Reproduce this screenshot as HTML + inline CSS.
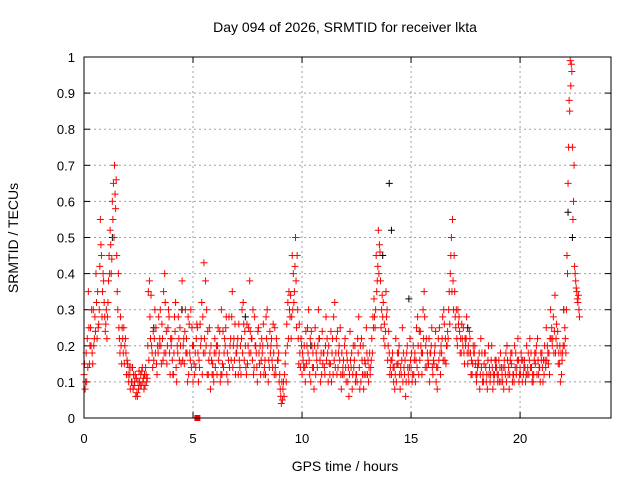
<!DOCTYPE html>
<html><head><meta charset="utf-8"><style>
body{margin:0;background:#fff;font-family:"Liberation Sans",sans-serif}
svg text{font-family:"Liberation Sans",sans-serif;font-size:13px;fill:#000}
</style></head><body>
<svg id="chart" width="640" height="480">
<text x="345" y="32" text-anchor="middle" style="font-size:14px">Day 094 of 2026, SRMTID for receiver lkta</text>
<text transform="translate(18,238) rotate(-90)" text-anchor="middle" style="font-size:14px">SRMTID / TECUs</text>
<text x="345" y="471" text-anchor="middle" style="font-size:14px">GPS time / hours</text>
<g id="grid"></g><g id="marks"></g>
<rect x="84" y="57" width="527" height="361" fill="none" stroke="#000"/>
</svg>
<script>
const xTicks=[0,5,10,15,20];
const yTicks=[0,0.1,0.2,0.3,0.4,0.5,0.6,0.7,0.8,0.9,1];
const yTickLabels=["0","0.1","0.2","0.3","0.4","0.5","0.6","0.7","0.8","0.9","1"];
const seriesA=[0.12,0.18,0.35,0.25,0.15,0.28,0.22,0.30,0.45,0.38,
0.26,0.32,0.52,0.60,0.70,0.45,0.25,0.20,0.18,0.22,
0.15,0.12,0.10,0.09,0.11,0.08,0.12,0.10,0.09,0.11,
0.38,0.20,0.16,0.25,0.18,0.30,0.22,0.40,0.15,0.28,
0.20,0.12,0.32,0.18,0.25,0.38,0.15,0.22,0.12,0.30,
0.10,0.18,0.25,0.14,0.32,0.43,0.20,0.12,0.08,0.15,
0.22,0.12,0.18,0.30,0.14,0.25,0.10,0.20,0.35,0.16,
0.18,0.26,0.12,0.32,0.20,0.15,0.38,0.22,0.14,0.18,
0.25,0.12,0.20,0.16,0.30,0.14,0.22,0.18,0.12,0.16,
0.08,0.05,0.12,0.26,0.35,0.22,0.40,0.50,0.30,0.18,
0.12,0.20,0.15,0.30,0.10,0.18,0.25,0.14,0.22,0.12,
0.18,0.28,0.10,0.15,0.22,0.32,0.12,0.20,0.08,0.16,
0.14,0.10,0.24,0.08,0.16,0.12,0.28,0.10,0.20,0.15,
0.12,0.18,0.22,0.33,0.45,0.52,0.38,0.28,0.20,0.30,
0.18,0.12,0.10,0.22,0.15,0.08,0.25,0.12,0.18,0.10,
0.14,0.20,0.10,0.28,0.16,0.12,0.35,0.22,0.15,0.18,
0.12,0.20,0.08,0.25,0.18,0.30,0.15,0.22,0.40,0.55,
0.35,0.22,0.28,0.18,0.25,0.20,0.15,0.22,0.12,0.18,
0.10,0.15,0.22,0.12,0.18,0.08,0.14,0.20,0.10,0.16,
0.12,0.18,0.10,0.14,0.20,0.08,0.15,0.12,0.18,0.22,
0.14,0.10,0.16,0.20,0.12,0.18,0.10,0.15,0.22,0.14,
0.18,0.12,0.25,0.15,0.30,0.22,0.34,0.20,0.15,0.12,
0.30,0.18,0.65,0.99,0.75,0.42,0.35,0.30];
const seriesB=[0.08,0.22,0.15,0.30,0.20,0.40,0.25,0.55,0.35,0.28,
0.22,0.45,0.40,0.65,0.58,0.30,0.18,0.25,0.15,0.12,
0.10,0.14,0.08,0.12,0.06,0.10,0.13,0.08,0.12,0.35,
0.22,0.14,0.30,0.12,0.20,0.15,0.35,0.18,0.25,0.12,
0.16,0.28,0.10,0.22,0.15,0.20,0.30,0.10,0.18,0.25,
0.15,0.22,0.10,0.20,0.28,0.18,0.12,0.25,0.16,0.10,
0.18,0.25,0.10,0.15,0.22,0.12,0.28,0.16,0.20,0.12,
0.22,0.14,0.30,0.16,0.12,0.25,0.18,0.30,0.20,0.10,
0.15,0.22,0.12,0.28,0.10,0.18,0.14,0.25,0.20,0.10,
0.04,0.10,0.18,0.32,0.28,0.45,0.35,0.25,0.15,0.22,
0.16,0.10,0.25,0.12,0.20,0.08,0.18,0.30,0.10,0.15,
0.12,0.22,0.15,0.10,0.28,0.18,0.14,0.25,0.12,0.20,
0.18,0.06,0.14,0.20,0.10,0.22,0.08,0.16,0.12,0.25,
0.10,0.14,0.28,0.25,0.38,0.48,0.30,0.22,0.35,0.20,
0.14,0.18,0.08,0.15,0.20,0.12,0.18,0.06,0.14,0.22,
0.10,0.16,0.25,0.12,0.20,0.30,0.14,0.18,0.10,0.25,
0.15,0.10,0.22,0.12,0.28,0.16,0.20,0.35,0.50,0.30,
0.25,0.30,0.18,0.22,0.15,0.28,0.18,0.12,0.20,0.15,
0.14,0.08,0.18,0.15,0.10,0.20,0.12,0.08,0.16,0.12,
0.10,0.14,0.08,0.18,0.12,0.16,0.10,0.20,0.14,0.10,
0.18,0.12,0.10,0.14,0.22,0.10,0.16,0.20,0.12,0.18,
0.10,0.16,0.20,0.12,0.25,0.18,0.22,0.15,0.10,0.18,
0.25,0.45,0.88,0.98,0.60,0.38,0.32];
const seriesC=[0.15,0.10,0.25,0.20,0.30,0.24,0.35,0.42,0.28,0.32,
0.30,0.38,0.48,0.55,0.62,0.35,0.22,0.15,0.25,0.18,
0.12,0.08,0.14,0.10,0.07,0.13,0.09,0.11,0.14,0.20,
0.28,0.18,0.22,0.15,0.28,0.20,0.16,0.32,0.20,0.18,
0.22,0.18,0.14,0.28,0.20,0.16,0.24,0.18,0.26,0.14,
0.20,0.14,0.18,0.26,0.12,0.22,0.30,0.16,0.20,0.12,
0.14,0.20,0.24,0.12,0.18,0.28,0.16,0.22,0.14,0.26,
0.20,0.16,0.22,0.26,0.14,0.20,0.24,0.16,0.28,0.14,
0.18,0.16,0.26,0.12,0.20,0.24,0.16,0.12,0.22,0.18,
0.06,0.08,0.15,0.20,0.30,0.28,0.32,0.38,0.22,0.14,
0.18,0.14,0.20,0.16,0.24,0.14,0.12,0.20,0.16,0.24,
0.14,0.16,0.20,0.24,0.12,0.14,0.24,0.16,0.18,0.12,
0.10,0.14,0.16,0.12,0.20,0.10,0.14,0.22,0.08,0.12,
0.16,0.12,0.18,0.28,0.35,0.40,0.25,0.32,0.24,0.16,
0.12,0.16,0.14,0.10,0.18,0.14,0.10,0.16,0.20,0.14,
0.18,0.12,0.16,0.20,0.24,0.18,0.28,0.14,0.22,0.20,
0.16,0.24,0.14,0.18,0.22,0.26,0.20,0.30,0.45,0.38,
0.28,0.20,0.24,0.26,0.18,0.22,0.20,0.18,0.15,0.20,
0.12,0.18,0.14,0.10,0.14,0.16,0.10,0.14,0.12,0.14,
0.16,0.10,0.14,0.12,0.16,0.12,0.18,0.10,0.12,0.16,
0.12,0.16,0.14,0.12,0.16,0.14,0.12,0.18,0.16,0.10,
0.14,0.20,0.16,0.18,0.22,0.28,0.18,0.24,0.20,0.16,
0.20,0.30,0.75,0.92,0.55,0.40,0.33,0.28];
const seriesD=[0.10,0.14,0.20,0.18,0.22,0.32,0.26,0.48,0.40,0.24,
0.28,0.40,0.44,0.50,0.66,0.40,0.28,0.22,0.20,0.16,
0.14,0.10,0.12,0.06,0.10,0.09,0.14,0.12,0.10,0.16,
0.34,0.24,0.18,0.20,0.22,0.26,0.18,0.24,0.30,0.22,
0.12,0.24,0.20,0.16,0.30,0.22,0.18,0.28,0.16,0.20,
0.12,0.26,0.16,0.22,0.18,0.38,0.24,0.18,0.12,0.18,
0.20,0.16,0.12,0.24,0.20,0.18,0.14,0.28,0.22,0.18,
0.12,0.20,0.18,0.24,0.26,0.18,0.22,0.12,0.20,0.24,
0.20,0.18,0.14,0.22,0.16,0.20,0.26,0.14,0.16,0.12,
0.10,0.06,0.10,0.22,0.34,0.30,0.42,0.45,0.26,0.20,
0.14,0.24,0.18,0.22,0.14,0.20,0.16,0.22,0.18,0.18,
0.20,0.18,0.12,0.18,0.16,0.22,0.18,0.12,0.14,0.22,
0.16,0.12,0.18,0.14,0.12,0.18,0.20,0.12,0.16,0.18,
0.14,0.16,0.25,0.30,0.42,0.46,0.34,0.26,0.28,0.24,
0.16,0.14,0.12,0.18,0.12,0.16,0.14,0.10,0.12,0.16,
0.12,0.18,0.14,0.24,0.18,0.22,0.20,0.16,0.18,0.14,
0.18,0.14,0.16,0.20,0.16,0.22,0.24,0.26,0.35,0.45,
0.30,0.26,0.22,0.20,0.22,0.18,0.24,0.16,0.18,0.12,
0.16,0.12,0.10,0.18,0.12,0.12,0.16,0.12,0.14,0.10,
0.14,0.12,0.16,0.10,0.14,0.18,0.12,0.14,0.16,0.12,
0.16,0.14,0.12,0.18,0.14,0.12,0.18,0.12,0.14,0.16,
0.16,0.14,0.18,0.22,0.20,0.24,0.26,0.18,0.18,0.20,
0.22,0.40,0.85,0.96,0.70,0.36,0.34];
const blackTimes=[1.3,3.2,4.5,7.4,10.4,13.7,14.0,14.1,14.9,17.6,19.4,22.0,22.2,22.4];
const blackValues=[0.50,0.25,0.30,0.28,0.20,0.45,0.65,0.52,0.33,0.25,0.20,0.30,0.57,0.50];
const squareTimes=[5.2];
const squareValues=[0];
const x0=84,x1=611,y0=418,y1=57,xMax=24.17;
const sx=v=>x0+v/xMax*(x1-x0);
const sy=v=>y0-v*(y0-y1);
const NS="http://www.w3.org/2000/svg";
const grid=document.getElementById('grid'),marks=document.getElementById('marks');
function mk(tag,attrs,parent){const e=document.createElementNS(NS,tag);for(const k in attrs)e.setAttribute(k,attrs[k]);parent.appendChild(e);return e;}
yTicks.forEach((v,i)=>{const y=sy(v);
 if(i>0&&i<yTicks.length-1){const g=mk('line',{x1:x0,x2:x1,y1:y,y2:y,stroke:'#a0a0a0','stroke-dasharray':'2,3'},grid);
 
 }
 mk('line',{x1:x0,x2:x0+6,y1:y,y2:y,stroke:'#000'},grid);mk('line',{x1:x1,x2:x1-6,y1:y,y2:y,stroke:'#000'},grid);
 const t=mk('text',{x:x0-9,y:y+5,'text-anchor':'end'},grid);t.textContent=yTickLabels[i];
 
 });
xTicks.forEach(v=>{const x=sx(v);
 if(v>0){const g=mk('line',{x1:x,x2:x,y1:y0,y2:y1,stroke:'#a0a0a0','stroke-dasharray':'2,3'},grid);
 
 }
 mk('line',{x1:x,x2:x,y1:y0,y2:y0-6,stroke:'#000'},grid);mk('line',{x1:x,x2:x,y1:y1,y2:y1+6,stroke:'#000'},grid);
 const t=mk('text',{x:x,y:y0+25,'text-anchor':'middle'},grid);t.textContent=String(v);
 
 });
function plus(t,v,color,name){const x=sx(t),y=sy(v);
 const p=mk('path',{d:`M${x-3.5},${y}H${x+3.5}M${x},${y-3.5}V${y+3.5}`,stroke:color,'stroke-width':1,fill:'none'},marks);
 
 }
blackTimes.forEach((t,i)=>plus(t,blackValues[i],'#000','black-point'));
seriesA.forEach((v,i)=>plus(i*0.1,v,'#f00','red-point'));
seriesB.forEach((v,i)=>plus(i*0.1+0.05,v,'#f00','red-point'));
seriesC.forEach((v,i)=>plus(i*0.1+0.025,v,'#f00','red-point'));
seriesD.forEach((v,i)=>plus(i*0.1+0.075,v,'#f00','red-point'));
squareTimes.forEach((t,i)=>{const r=mk('rect',{x:sx(t)-3,y:sy(squareValues[i])-3,width:6,height:6,fill:'#f00'},marks);
 
 });
</script>
</body></html>
